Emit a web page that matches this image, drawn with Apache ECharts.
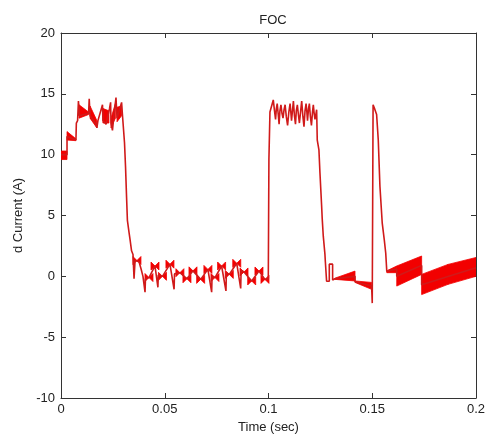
<!DOCTYPE html>
<html>
<head>
<meta charset="utf-8">
<script src="https://cdn.jsdelivr.net/npm/echarts@6/dist/echarts.min.js"></script>
<style>
html,body{margin:0;padding:0;background:#fff;}
#chart{width:490px;height:439px;}
</style>
</head>
<body>
<div id="chart"></div>
<script>
// ---- Data (time in s, current in A) ----
const titleText = 'FOC';
const xName = 'Time (sec)';
const yName = 'd Current (A)';
const xTickLabels = ['0', '0.05', '0.1', '0.15', '0.2'];
const yTickLabels = ['-10', '-5', '0', '5', '10', '15', '20'];

// main trace [t, i]
const traceTime = [0,0.0029,0.0029,0.0072,0.0074,0.0080,0.0084,0.0089,0.0133,0.0136,0.0140,0.0169,0.0173,0.0178,0.0200,0.0202,0.0217,0.0234,0.0239,0.0241,0.0248,0.0255,0.0265,0.0270,0.0280,0.0292,0.0296,0.0304,
0.0306,0.0311,0.0316,0.0320,0.0328,0.0333,0.0340,0.0347,0.0352,0.0357,0.0366,0.0376,0.0386,0.0395,0.0405,0.0407,0.0424,0.0453,0.0467,0.0469,0.0489,0.0525,0.0545,0.0547,0.0573,0.0607,0.0636,0.0673,0.0708,0.0726,0.0728,0.0742,0.0774,0.0795,0.0797,0.0811,0.0847,0.0866,0.0868,0.0882,0.0919,0.0954,0.0983,0.0999,0.1002,0.1007,
0.1023,0.1029,0.1034,0.1038,0.1042,0.1047,0.1051,0.1055,0.1060,0.1065,0.1070,0.1075,0.1080,0.1086,0.1092,0.1098,0.1104,0.1108,0.1111,0.1116,0.1120,0.1125,0.1130,0.1134,0.1139,0.1144,0.1149,0.1155,0.1160,0.1166,0.1171,0.1176,0.1181,0.1185,0.1188,0.1193,0.1197,0.1202,0.1207,0.1212,0.1216,0.1220,0.1224,0.1228,0.1232,
0.1235,0.1243,0.1248,0.1256,0.1259,0.1264,0.1272,0.1274,0.1280,0.1280,0.1293,0.1293,0.1309,0.1309,0.1320,0.1417,0.1417,0.1497,0.1500,0.1504,0.1513,0.1521,0.1529,0.1537,0.1548,0.1558,0.1565,0.1570,0.1618,0.1618,0.1738,0.1738,0.2000];
const traceCurrent = [10.0,10.0,11.5,11.2,12.6,12.8,14.4,13.2,13.4,14.6,13.2,12.5,12.2,12.8,14.1,12.8,12.5,13.8,14.3,12.6,12.0,13.2,14.7,13.0,13.6,14.3,13.3,13.2,
11.0,9.0,6.5,4.6,3.6,3.0,2.1,1.8,-0.2,1.3,1.3,1.2,0.6,0.0,-1.3,-0.2,-0.1,0.85,-0.9,0.1,0.0,1.0,-1.07,0.2,0.3,-0.2,0.45,-0.25,0.57,-1.3,0.0,-0.1,0.85,-1.2,0.3,0.16,1.07,-1.0,0.5,0.36,-0.38,0.44,-0.25,-0.2,9.6,13.5,
14.5,13.6,12.9,13.8,14.2,13.3,12.5,13.6,14.1,13.4,13.0,13.7,14.1,13.1,12.4,13.5,14.2,13.4,12.8,13.7,14.4,13.2,12.5,13.6,14.1,13.3,12.6,13.6,14.4,13.1,12.3,13.6,14.2,13.5,12.8,13.8,14.2,13.1,12.4,13.5,14.1,13.4,12.9,13.3,13.7,
11.2,10.4,8.5,5.8,4.7,3.3,1.8,1.2,1.1,-0.4,-0.4,1.0,1.0,-0.3,-0.2,0.0,-0.45,-0.8,-2.2,14.1,13.7,13.3,11.2,7.4,4.4,3.0,1.9,0.43,0.6,0.0,0.9,-0.7,0.7];

// filled ripple envelopes: [t0, low0, high0, t1, low1, high1]
const rippleBands = [
  [0.0000, 9.6, 10.3, 0.0029, 9.6, 10.3],
  [0.0029, 11.2, 11.9, 0.0072, 11.15, 11.3],
  [0.0087, 13.0, 14.1, 0.0133, 13.3, 13.5],
  [0.0140, 13.0, 14.0, 0.0173, 12.2, 12.8],
  [0.0202, 12.6, 13.8, 0.0231, 12.6, 13.6],
  [0.0241, 12.2, 13.0, 0.0262, 13.0, 14.2],
  [0.0270, 12.7, 13.9, 0.0292, 13.2, 14.0],
  [0.1320, -0.25, -0.15, 0.1417, -0.38, 0.43],
  [0.1417, -0.5, -0.38, 0.1497, -1.07, -0.5],
  [0.1570, 0.3, 0.45, 0.1618, 0.3, 0.85],
  [0.1618, -0.8, 0.85, 0.1738, 0.16, 1.67],
  [0.1738, -1.5, 0.16, 0.1865, -0.66, 0.98],
  [0.1865, -0.66, 0.98, 0.2000, 0.0, 1.55]
];

// small bow-tie ripple bursts in the low segment [t, i]
const bowTime = [0.0366,0.0424,0.0453,0.0489,0.0525,0.0573,0.0607,0.0636,0.0673,0.0708,0.0742,0.0774,0.0811,0.0847,0.0882,0.0919,0.0954,0.0983];
const bowCurrent = [1.3,-0.1,0.85,0.0,1.0,0.3,-0.2,0.45,-0.25,0.57,-0.1,0.85,0.16,1.07,0.36,-0.38,0.44,-0.25];

// ---- Chart ----
const traceData = traceTime.map((t, i) => [t, traceCurrent[i]]);
const bowData = bowTime.map((t, i) => [t, bowCurrent[i]]);
const FONT = '"Liberation Sans", Arial, Helvetica, sans-serif';
const AX = '#333';
const FILL = '#f20000';
const LINE = '#d01a1a';

const xLab = v => xTickLabels[Math.round(v / 0.05)];
const yLab = v => yTickLabels[Math.round((v + 10) / 5)];

const commonX = {
  type: 'value', min: 0, max: 0.2, interval: 0.05,
  axisLine: { show: true, onZero: false, lineStyle: { color: AX, width: 1 } },
  axisTick: { show: true, inside: true, length: 5, lineStyle: { color: AX } },
  splitLine: { show: false }
};
const commonY = {
  type: 'value', min: -10, max: 20, interval: 5,
  axisLine: { show: true, onZero: false, lineStyle: { color: AX, width: 1 } },
  axisTick: { show: true, inside: true, length: 5, lineStyle: { color: AX } },
  splitLine: { show: false }
};

const chart = echarts.init(document.getElementById('chart'), null, { renderer: 'canvas' });
chart.setOption({
  animation: false,
  backgroundColor: '#fff',
  title: {
    text: titleText, left: 268, top: 9, textAlign: 'center',
    textStyle: { fontFamily: FONT, fontSize: 13, fontWeight: 'normal', color: '#222' }
  },
  grid: { left: 61, right: 14, top: 33, bottom: 40, containLabel: false },
  xAxis: [
    Object.assign({}, commonX, {
      position: 'bottom',
      axisLabel: { formatter: xLab, color: '#222', fontFamily: FONT, fontSize: 13, margin: 5 },
      name: xName, nameLocation: 'middle', nameGap: 23,
      nameTextStyle: { fontFamily: FONT, fontSize: 13, color: '#222' }
    }),
    Object.assign({}, commonX, { position: 'top', axisLabel: { show: false } })
  ],
  yAxis: [
    Object.assign({}, commonY, {
      position: 'left',
      axisLabel: { formatter: yLab, color: '#222', fontFamily: FONT, fontSize: 13, margin: 6 },
      name: yName, nameLocation: 'middle', nameGap: 27,
      nameTextStyle: { fontFamily: FONT, fontSize: 13, color: '#222' }
    }),
    Object.assign({}, commonY, { position: 'right', axisLabel: { show: false } })
  ],
  series: [
    {
      type: 'custom', xAxisIndex: 0, yAxisIndex: 0, clip: true,
      data: rippleBands,
      encode: { x: [0, 3], y: [1, 2, 4, 5] },
      renderItem: function (params, api) {
        const pts = [
          api.coord([api.value(0), api.value(1)]),
          api.coord([api.value(0), api.value(2)]),
          api.coord([api.value(3), api.value(5)]),
          api.coord([api.value(3), api.value(4)])
        ];
        return { type: 'polygon', shape: { points: pts }, style: { fill: FILL, stroke: FILL, lineWidth: 0.8 } };
      }
    },
    {
      type: 'custom', xAxisIndex: 0, yAxisIndex: 0, clip: true,
      data: bowData,
      encode: { x: 0, y: 1 },
      renderItem: function (params, api) {
        const c = api.coord([api.value(0), api.value(1)]);
        const w = 4, h = 4;
        const pts = [[c[0] - w, c[1] - h], [c[0] - w, c[1] + h], [c[0] + w, c[1] - h], [c[0] + w, c[1] + h]];
        return { type: 'polygon', shape: { points: pts }, style: { fill: FILL, stroke: FILL, lineWidth: 0.8 } };
      }
    },
    {
      type: 'line', xAxisIndex: 0, yAxisIndex: 0,
      data: traceData, showSymbol: false, symbol: 'none',
      lineStyle: { color: LINE, width: 1.6 },
      silent: true, clip: true
    }
  ]
});
</script>
</body>
</html>
